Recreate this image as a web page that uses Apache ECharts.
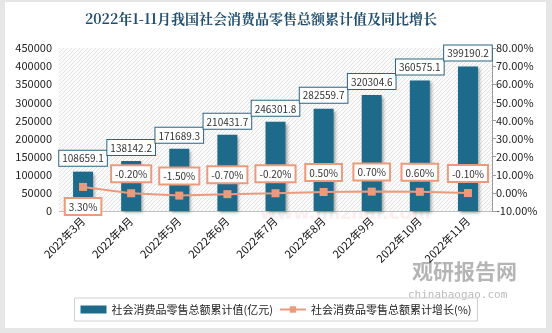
<!DOCTYPE html>
<html><head><meta charset="utf-8">
<script src="https://cdn.jsdelivr.net/npm/echarts@6/dist/echarts.min.js"></script>
<style>html,body{margin:0;padding:0;background:#e6e6e6;}#c{width:552px;height:333px;}</style>
</head><body><div id="c"></div>
<script>
const categories = ['2022年3月','2022年4月','2022年5月','2022年6月','2022年7月','2022年8月','2022年9月','2022年10月','2022年11月'];
const retailTotal = [108659.1,138142.2,171689.3,210431.7,246301.8,282559.7,320304.6,360575.1,399190.2];
const retailGrowth = [3.3,-0.2,-1.5,-0.7,-0.2,0.5,0.7,0.6,-0.1];
const seriesNames = ['社会消费品零售总额累计值(亿元)','社会消费品零售总额累计增长(%)'];
const titleText = '2022年1-11月我国社会消费品零售总额累计值及同比增长';

const pc = document.createElement('canvas'); pc.width = 4; pc.height = 4;
const g = pc.getContext('2d');
g.fillStyle = '#fbfbfb'; g.fillRect(0,0,4,4);
g.fillStyle = '#e2e2e2';
for (let i=0;i<4;i++){ g.fillRect(i,3-i,1,1); }

const chart = echarts.init(document.getElementById('c'));
const font = '"Microsoft YaHei","Noto Sans CJK SC",sans-serif';
const lineData = retailGrowth.map((v,i)=> i===0 ? {value:v,label:{position:'bottom',distance:8}} : v);
chart.setOption({
  animation:false,
  textStyle:{fontFamily:font},
  graphic:[
    {type:'rect',shape:{x:5,y:2,width:541,height:326},style:{fill:'#fff'},z:-10,silent:true},
    {type:'text',left:412,top:261,style:{text:'观研报告网',fill:'#b5b5b5',font:'bold 21px "Noto Sans CJK SC"'},z:-5},
    {type:'text',left:408,top:290,style:{text:'chinabaogao.com',fill:'#bbbbbb',font:'11px "DejaVu Sans Mono"'},z:-5},
    {type:'text',left:140,top:112,style:{text:'米 宅',fill:'rgba(240,150,150,0.12)',font:'bold 70px "Noto Sans CJK SC"'},z:-5},
    {type:'text',left:260,top:205,style:{text:'www.mizhai.com',fill:'rgba(240,150,150,0.15)',font:'bold 18px "DejaVu Sans"'},z:-5}
  ],
  title:{text:titleText,left:256,top:7,textAlign:'center',textStyle:{fontSize:14,fontWeight:'bold',color:'#1f4e6e',fontFamily:'"Noto Serif CJK SC","Noto Sans CJK SC",serif'}},
  grid:{left:59,right:60,top:48,bottom:122,show:true,borderWidth:0,backgroundColor:{image:pc,repeat:'repeat'}},
  legend:{bottom:12,left:'center',itemGap:6,itemWidth:26,itemHeight:8,padding:[6,6,6,6],borderColor:'#d0d0d0',borderWidth:1,
    textStyle:{fontSize:11,color:'#222'},
    data:[{name:seriesNames[0],icon:'rect'},{name:seriesNames[1]}]},
  xAxis:{type:'category',data:categories,
    axisLine:{lineStyle:{color:'#bfbfbf'}},axisTick:{show:false},
    axisLabel:{rotate:45,fontSize:11,color:'#111',margin:8,interval:0}},
  yAxis:[
    {type:'value',min:0,max:450000,interval:50000,axisLine:{show:false},axisTick:{show:false},splitLine:{show:false},
     axisLabel:{fontSize:11,color:'#222',margin:7,formatter:v=>String(v)}},
    {type:'value',min:-10,max:80,interval:10,axisLine:{show:true,lineStyle:{color:'#9a9a9a'}},axisTick:{show:true,length:4,lineStyle:{color:'#9a9a9a'}},splitLine:{show:false},
     axisLabel:{fontSize:11,color:'#222',margin:4,formatter:v=>v.toFixed(2)+'%'}}
  ],
  series:[
    {name:seriesNames[0],type:'bar',data:retailTotal,barWidth:20,
     itemStyle:{color:'#1e6a8b',shadowColor:'rgba(0,0,0,0.35)',shadowBlur:3,shadowOffsetX:2,shadowOffsetY:2},
     label:{show:true,position:'top',distance:6,fontSize:10,color:'#333',backgroundColor:'#fff',borderColor:'#2a6485',borderWidth:1,padding:[3,3,2,3],formatter:p=>p.value.toFixed(1)}},
    {name:seriesNames[1],type:'line',yAxisIndex:1,data:lineData,symbol:'rect',symbolSize:8,
     lineStyle:{color:'#eb9b7b',width:2},itemStyle:{color:'#eb9b7b'},
     label:{show:true,position:'top',distance:8,fontSize:10,color:'#333',backgroundColor:'#fff',borderColor:'#eb9b7b',borderWidth:2,padding:[3,3,2,3],formatter:p=>p.value.toFixed(2)+'%'}}
  ]
});
</script></body></html>
